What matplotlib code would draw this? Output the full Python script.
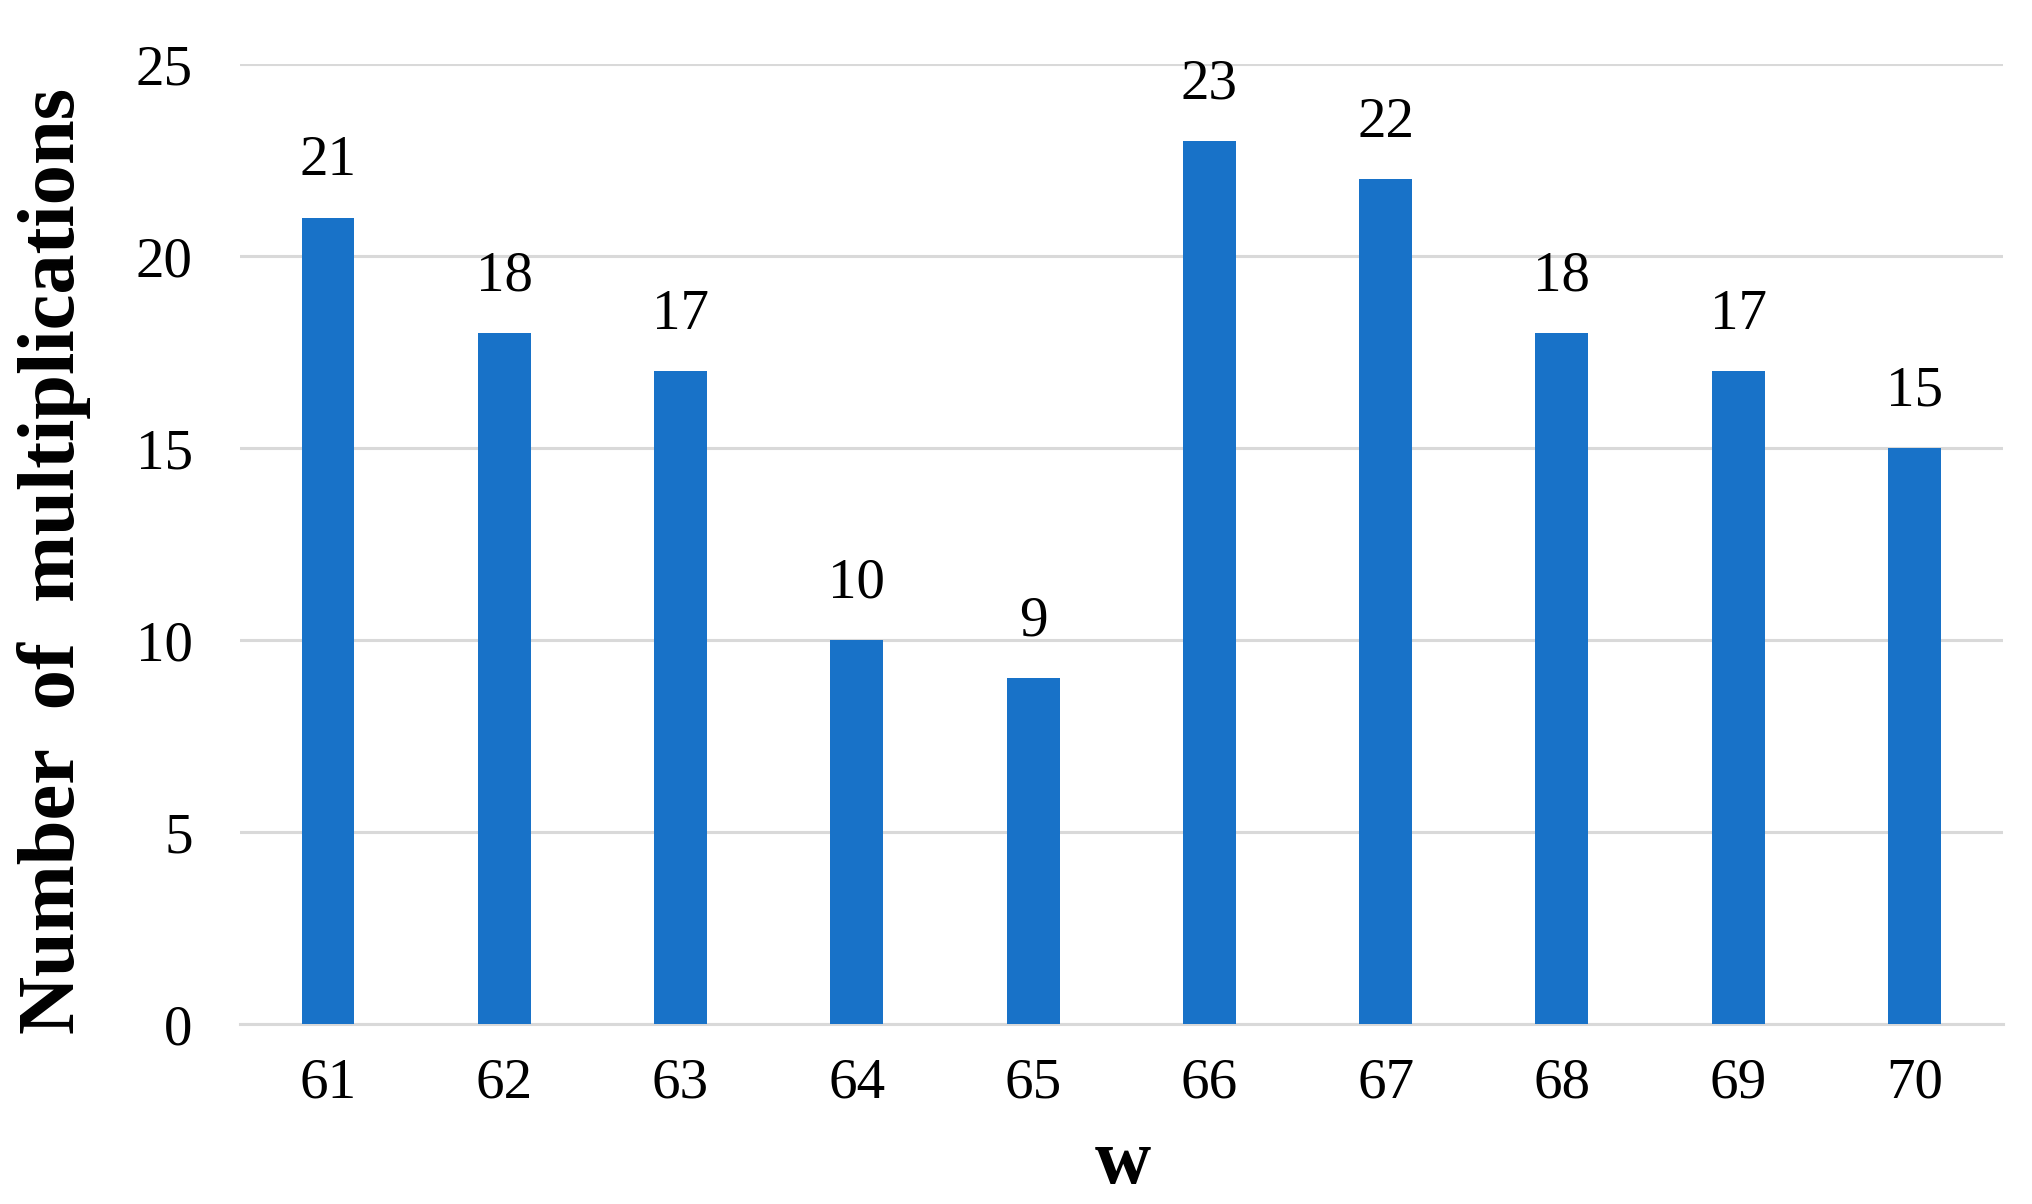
import numpy as np
import matplotlib.pyplot as plt

# data
w_values = ['61', '62', '63', '64', '65', '66', '67', '68', '69', '70']
multiplications = [21, 18, 17, 10, 9, 23, 22, 18, 17, 15]
y_ticks = [0, 5, 10, 15, 20, 25]

plt.rcParams['font.family'] = ['Liberation Serif', 'DejaVu Serif']

fig = plt.figure(figsize=(20.33, 12.04), dpi=100)
ax = fig.add_axes([0.118, 0.1495, 0.867, 0.7973])

x = np.arange(len(w_values))
bars = ax.bar(x, multiplications, width=0.30, color='#1872C8', zorder=3)

for xi, v in zip(x, multiplications):
    ax.annotate(str(v), (xi, v), xytext=(0, 22), textcoords='offset points',
                ha='center', va='bottom', fontsize=41)

ax.set_xlim(-0.5, len(w_values) - 0.5)
ax.set_ylim(0, 25)
ax.set_yticks(y_ticks)
ax.set_xticks(x)
ax.set_xticklabels(w_values)
ax.grid(axis='y', color='#d9d9d9', linewidth=2.2, zorder=0)
ax.tick_params(axis='both', length=0, labelsize=41)
ax.tick_params(axis='y', pad=34)
ax.tick_params(axis='x', pad=24)

for s in ['top', 'right', 'left']:
    ax.spines[s].set_visible(False)
ax.spines['bottom'].set_color('#d9d9d9')
ax.spines['bottom'].set_linewidth(2.2)

# axis titles placed directly in figure coords
fig.text(0.0266, 0.534, 'Number  of  multiplications', rotation=90,
         ha='center', va='center', fontsize=58, fontweight='bold')
fig.text(0.5524, 0.0332, 'w', ha='center', va='center',
         fontsize=56, fontweight='bold')

fig.savefig('out.png', dpi=100)
